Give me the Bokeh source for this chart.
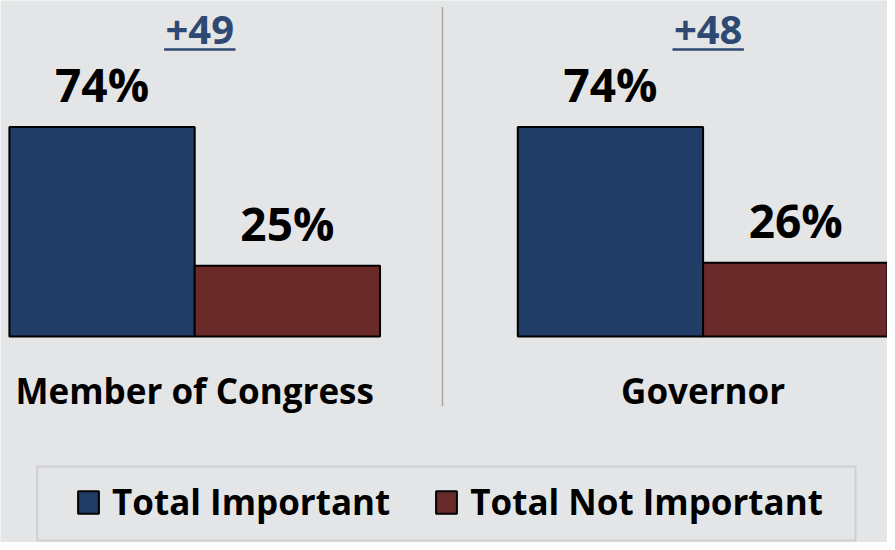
from bokeh.plotting import figure
from bokeh.models import Range1d, ColumnDataSource, Legend, LegendItem, BoxAnnotation
from bokeh.core.properties import value
from bokeh.embed import file_html
from bokeh.resources import INLINE

# ---- data ----
categories = ["Member of Congress", "Governor"]
important = [74, 74]
not_important = [25, 26]
margins = ["+49", "+48"]
series_names = ["Total Important", "Total Not Important"]

# ---- style ----
BG = "#e4e5e7"
BLUE = "#1f3d66"
RED = "#6b2a2a"
NAVY_TXT = "#2e4a72"
FONT_NAME = "Open Sans"
FONT = value(FONT_NAME)
PX_PER_UNIT = 2.83          # vertical pixels per percentage point
BAR_W = 0.3645              # bar width in group units
LBL_OFF = 15.2              # value-label centre above bar top (units)

W, H = 887, 542
p = figure(width=W, height=H, output_backend="svg", toolbar_location=None,
           x_range=Range1d(-0.382, 1.3627), y_range=Range1d(-72.8, 118.7),
           min_border=0, background_fill_color=BG, border_fill_color=BG,
           outline_line_color=None)
p.axis.visible = False
p.grid.visible = False

xs = list(range(len(categories)))
src = ColumnDataSource(dict(
    x_imp=[x - BAR_W / 2 for x in xs],
    x_not=[x + BAR_W / 2 for x in xs],
    imp=important, notimp=not_important,
    imp_lbl=[f"{v}%" for v in important],
    not_lbl=[f"{v}%" for v in not_important],
    imp_lbl_y=[v + LBL_OFF for v in important],
    not_lbl_y=[v + LBL_OFF for v in not_important],
    cx=xs, mx=[x + 0.01 for x in xs], cat=categories, margin=margins,
))

r_imp = p.vbar(x="x_imp", top="imp", bottom=0, width=BAR_W, source=src,
               fill_color=BLUE, line_color="black", line_width=2)
r_not = p.vbar(x="x_not", top="notimp", bottom=0, width=BAR_W, source=src,
               fill_color=RED, line_color="black", line_width=2)

# value labels
for xcol, ycol, tcol in (("x_imp", "imp_lbl_y", "imp_lbl"), ("x_not", "not_lbl_y", "not_lbl")):
    p.text(x=xcol, y=ycol, text=tcol, source=src, text_font=FONT,
           text_font_style="bold", text_font_size="46px", text_align="center",
           text_baseline="middle", text_color="black")

# margin labels with underline
p.text(x="mx", y=108.4, text="margin", source=src, text_font=FONT,
       text_font_style="bold", text_font_size="40px", text_align="center",
       text_baseline="middle", text_color=NAVY_TXT)
p.segment(x0=[x + 0.01 - 0.0702 for x in xs], x1=[x + 0.01 + 0.0702 for x in xs],
          y0=101.4, y1=101.4, line_color=NAVY_TXT, line_width=2.5)

# category labels
p.text(x="cx", y=-19.0, text="cat", source=src, text_font=FONT,
       text_font_style="bold", text_font_size="35px", text_align="center",
       text_baseline="middle", text_color="black")

# divider between groups
p.segment(x0=[0.4874], x1=[0.4874], y0=[116.3], y1=[-24.7],
          line_color="#a6a6a6", line_width=1.5)

# legend frame
p.add_layout(BoxAnnotation(left=(36.7 - 194.2) / 508.4, right=(855 - 194.2) / 508.4,
                           top=(336 - 466) / PX_PER_UNIT, bottom=(336 - 540) / PX_PER_UNIT,
                           fill_alpha=0, line_color="#9a9a9a", line_width=2))

legend = Legend(items=[LegendItem(label=series_names[0], renderers=[r_imp]),
                       LegendItem(label=series_names[1], renderers=[r_not])],
                orientation="horizontal", location=(75, 17),
                label_text_font=FONT_NAME, label_text_font_style="bold",
                label_text_font_size="35px", label_text_color="black",
                glyph_width=26, glyph_height=28, label_standoff=11,
                spacing=43, padding=14, margin=0,
                border_line_color=None, background_fill_alpha=0.0)
p.add_layout(legend, "center")

open("out.html", "w").write(file_html(p, INLINE))
